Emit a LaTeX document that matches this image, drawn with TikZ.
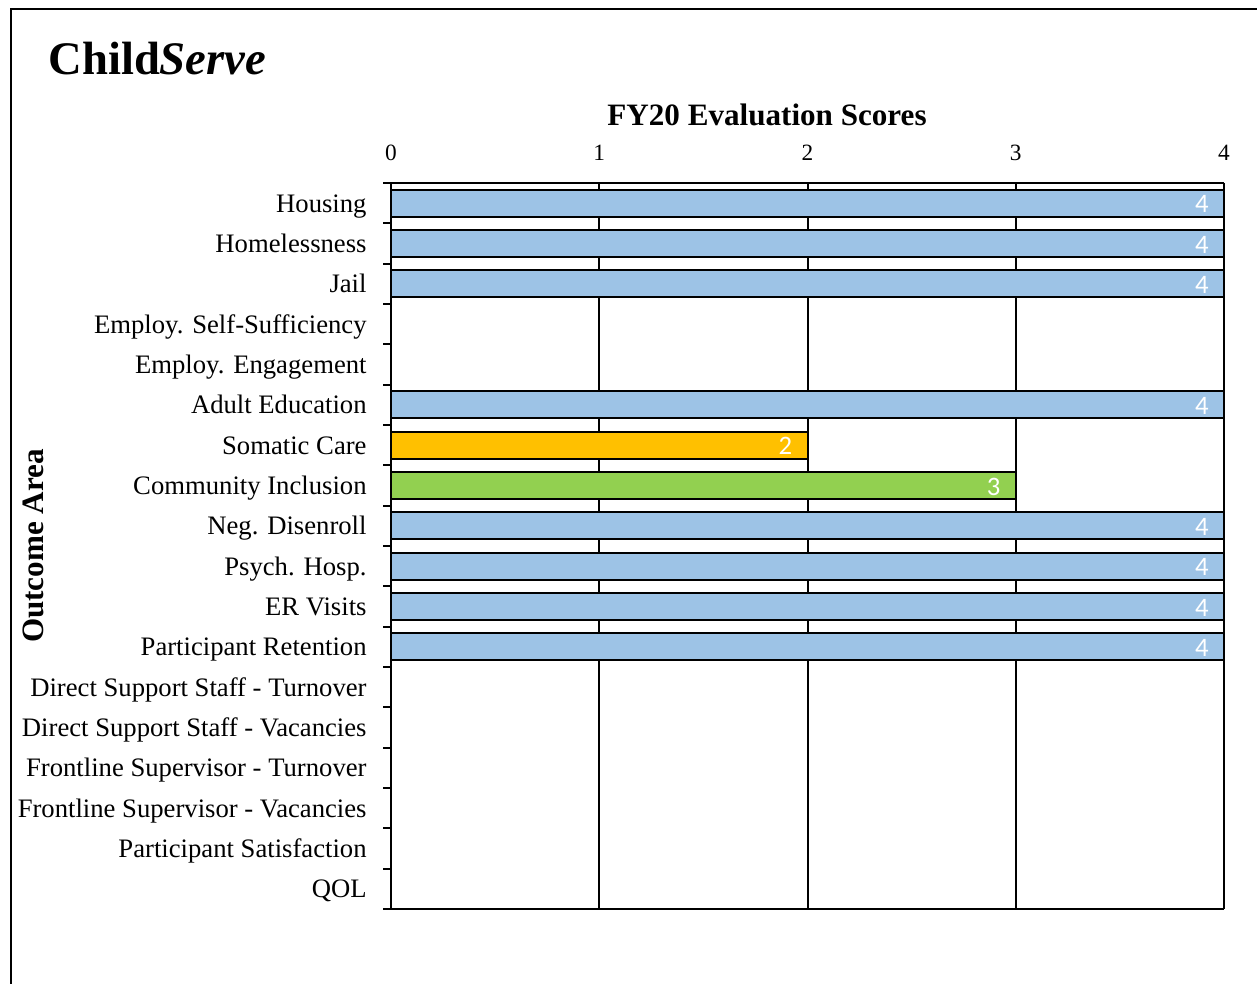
\documentclass[tikz,border=0pt]{standalone}
\usepackage{fontspec}
\setmainfont{Liberation Serif}
\newfontfamily\datafont{Carlito}
\definecolor{barblue}{HTML}{9DC3E6}
\definecolor{barorange}{HTML}{FFC000}
\definecolor{bargreen}{HTML}{92D050}
\begin{document}
\begin{tikzpicture}[x=0.45pt,y=-0.45pt,
	outcome/.style={anchor=base east,inner sep=0pt,font=\fontsize{12}{14}\selectfont},
	scorelbl/.style={anchor=base,inner sep=0pt,font=\fontsize{10.5}{12}\selectfont},
	vallbl/.style={anchor=base east,inner sep=0pt,text=white,font=\datafont\fontsize{12}{14}\selectfont},
	scorebar/.style={draw=black,line width=0.9pt},
	grid/.style={line width=0.9pt}]
	\useasboundingbox (0,0) rectangle (1257,984);
	\draw[line width=0.9pt] (11,984) -- (11,9) -- (1257,9);
	\node[anchor=base west,inner sep=0pt,font=\bfseries\fontsize{21}{24}\selectfont] (brand) at (48,75) {Child\textit{Serve}};
	\node[anchor=base,inner sep=0pt,font=\bfseries\fontsize{14}{16}\selectfont] (title) at (767,126) {FY20 Evaluation Scores};
	\node[rotate=90,anchor=base,inner sep=0pt,font=\bfseries\fontsize{14}{16}\selectfont] (ytitle) at (43,546) {Outcome Area};
	% grid and scale
	\foreach \s in {0,...,4} {
		\pgfmathsetmacro\gx{391+208.25*\s}
		\node[scorelbl] (score\s) at (\gx,161) {\s};
		\draw[grid] (\gx,183) -- (\gx,909);
	}
	\draw[grid] (383,183) -- (1224,183);
	\draw[grid] (383,909) -- (1224,909);
	\foreach \t in {1,...,17}
		\draw[grid] (383,183+40.333*\t) -- (391,183+40.333*\t);
	% bars
	\foreach \lbl/\val/\col [count=\i from 0] in {
		Housing/4/barblue,
		Homelessness/4/barblue,
		Jail/4/barblue,
		Employ. Self-Sufficiency/0/white,
		Employ. Engagement/0/white,
		Adult Education/4/barblue,
		Somatic Care/2/barorange,
		Community Inclusion/3/bargreen,
		Neg. Disenroll/4/barblue,
		Psych. Hosp./4/barblue,
		ER Visits/4/barblue,
		Participant Retention/4/barblue,
		Direct Support Staff - Turnover/0/white,
		Direct Support Staff - Vacancies/0/white,
		Frontline Supervisor - Turnover/0/white,
		Frontline Supervisor - Vacancies/0/white,
		Participant Satisfaction/0/white,
		QOL/0/white} {
		\pgfmathsetmacro\c{203.17+40.333*\i}
		\node[outcome] (lbl\i) at (367,\c+9) {\lbl};
		\ifnum\val>0
			\pgfmathsetmacro\bx{391+208.25*\val}
			\draw[scorebar,fill=\col] (391,\c-13.5) rectangle (\bx,\c+13.5);
			\node[vallbl] (val\i) at (\bx-15,\c+9.5) {\val};
		\fi
	}
\end{tikzpicture}
\end{document}
